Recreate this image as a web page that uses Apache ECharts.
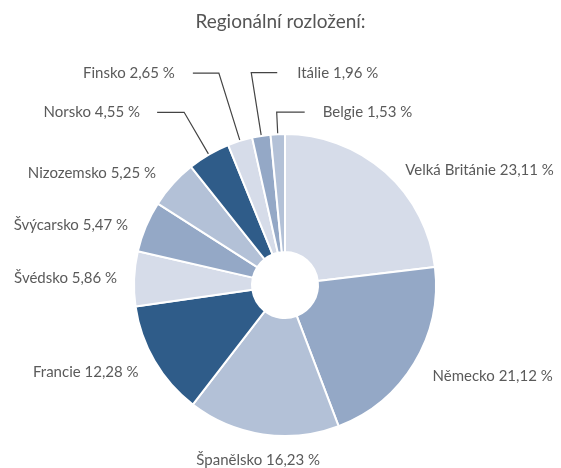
<!DOCTYPE html>
<html>
<head>
<meta charset="utf-8">
<script src="https://cdn.jsdelivr.net/npm/echarts@6/dist/echarts.min.js"></script>
<style>
    html, body { margin: 0; padding: 0; background: #fff; }
    #main { width: 561px; height: 468px; }
</style>
</head>
<body>
<div id="main"></div>
<script type="text/javascript">
    // data
    var regions = ['Velká Británie', 'Německo', 'Španělsko', 'Francie', 'Švédsko', 'Švýcarsko',
                   'Nizozemsko', 'Norsko', 'Finsko', 'Itálie', 'Belgie'];
    var shares = [23.11, 21.12, 16.23, 12.28, 5.86, 5.47, 5.25, 4.55, 2.65, 1.96, 1.53];
    var palette = ['#d6dce9', '#94a8c6', '#b3c1d7', '#2f5c89'];

    // popisky: delka cary, vodorovny kus, zobrazit caru, otocit doprava, mezera
    var tweaks = [
        [3, 13, false, false, 5],
        [25, -8, false, false, 5],
        [26, -66, false, false, 5],
        [22, -8, false, false, 5],
        [5, 7, false, false, 5],
        [4, 9, false, false, 5],
        [16, 0, false, false, 5],
        [49, 27, true, false, 17],
        [71, 26, true, false, 18],
        [64, 26, true, true, 20],
        [22, 28, true, true, 18]
    ];

    var pieData = [];
    for (var i = 0; i < regions.length; i++) {
        var t = tweaks[i];
        pieData.push({
            name: regions[i],
            value: shares[i],
            itemStyle: { color: palette[i % 4] },
            label: { distanceToLabelLine: t[4] },
            labelLine: { show: t[2], length: t[0], length2: t[1] }
        });
    }

    var myChart = echarts.init(document.getElementById('main'));
    var option = {
        animation: false,
        title: {
            text: 'Regionální rozložení:',
            left: 'center',
            top: 12,
            padding: [0, 0, 0, 10],
            textStyle: {
                fontFamily: 'Lato',
                fontSize: 19,
                fontWeight: 'normal',
                color: '#555'
            }
        },
        series: [
            {
                type: 'pie',
                center: [285, 285],
                radius: [33, 151],
                startAngle: 90,
                avoidLabelOverlap: false,
                itemStyle: { borderColor: '#fff', borderWidth: 2 },
                label: {
                    position: 'outside',
                    alignTo: 'none',
                    fontFamily: 'Lato',
                    fontSize: 15,
                    color: '#5a5a5a',
                    formatter: function (p) {
                        return p.name + ' ' + p.value.toFixed(2).replace('.', ',') + ' %';
                    }
                },
                labelLine: {
                    minTurnAngle: 0,
                    lineStyle: { color: '#444', width: 1.2 }
                },
                labelLayout: function (p) {
                    var t = tweaks[p.dataIndex];
                    var pts = p.labelLinePoints;
                    if (!t[3] || !pts) {
                        return;
                    }
                    var xEnd = 2 * pts[1][0] - pts[2][0];
                    return {
                        x: xEnd + t[4],
                        y: pts[1][1],
                        align: 'left',
                        verticalAlign: 'middle',
                        labelLinePoints: [pts[0], pts[1], [xEnd, pts[2][1]]]
                    };
                },
                data: pieData
            }
        ]
    };
    myChart.setOption(option);
</script>
</body>
</html>
